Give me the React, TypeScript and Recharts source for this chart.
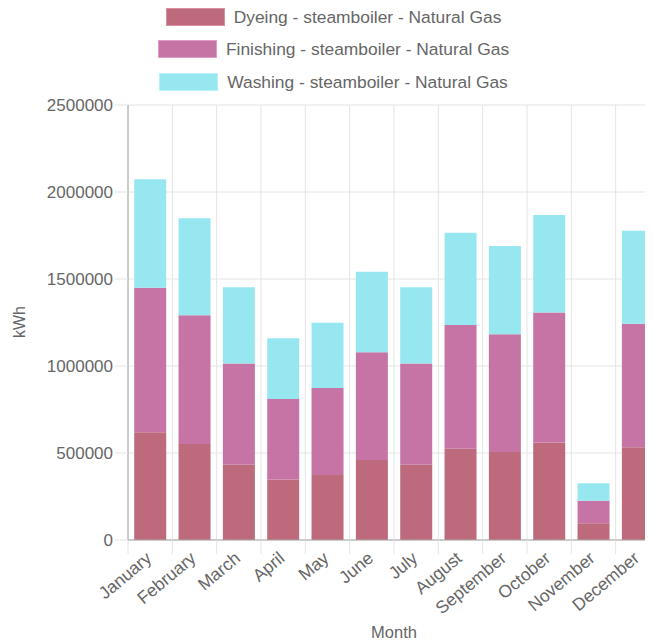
import React from "react";
import { BarChart, Bar, XAxis, YAxis, CartesianGrid } from "recharts";

// chart values
const months = [
  "January",
  "February",
  "March",
  "April",
  "May",
  "June",
  "July",
  "August",
  "September",
  "October",
  "November",
  "December",
];
const dyeing = [619000, 552000, 433000, 347000, 374000, 460000, 433000, 525000, 506000, 561000, 96000, 533000];
const finishing = [831000, 739000, 582000, 463000, 499000, 619000, 582000, 711000, 676000, 747000, 130000, 710000];
const washing = [623000, 558000, 437000, 349000, 376000, 463000, 437000, 530000, 508000, 560000, 100000, 535000];
const yTicks = [0, 500000, 1000000, 1500000, 2000000, 2500000];

const series = [
  { key: "dyeing", name: "Dyeing - steamboiler - Natural Gas", color: "#bd6b7c", border: "#d98fa0" },
  { key: "finishing", name: "Finishing - steamboiler - Natural Gas", color: "#c574a5", border: "#e29bc6" },
  { key: "washing", name: "Washing - steamboiler - Natural Gas", color: "#97e7f1", border: "#b5f3fa" },
];

const data = months.map((m, i) => ({
  month: m,
  dyeing: dyeing[i],
  finishing: finishing[i],
  washing: washing[i],
}));

const W = 700;
const H = 636;
const PLOT_LEFT = 120;
const PLOT_TOP = 97;
const PLOT_BOTTOM = 532;
const PLOT_RIGHT = 652;
const X_AXIS_H = 60;
const TICK_SIZE = 14;
const TICK_MARGIN = 3;
const GRID = "#e4e4e4";
const AXIS = "#a6a6a6";
const TEXT = "#666";

const XTick = (props: any) => {
  const { x, y, payload } = props;
  const half = (PLOT_RIGHT - PLOT_LEFT) / months.length / 2;
  const axisY = y - TICK_SIZE - TICK_MARGIN;
  return (
    <g>
      <line x1={x - half} x2={x - half} y1={axisY} y2={axisY + TICK_SIZE} stroke={GRID} />
      <text
        x={x}
        y={y}
        dy={4}
        textAnchor="end"
        transform={`rotate(-40, ${x}, ${y})`}
        fill={TEXT}
        fontSize={17.5}
      >
        {payload.value}
      </text>
    </g>
  );
};

const App = () => {
  return (
    <div
      style={{
        position: "relative",
        width: 645,
        height: H,
        overflow: "hidden",
        fontFamily: "'Liberation Sans', Arial, sans-serif",
      }}
    >
      {/* legend, one item per row like the original */}
      {series.map((s, i) => (
        <div
          key={s.key}
          style={{
            position: "absolute",
            top: i * 32.3,
            left: 0,
            width: 651,
            display: "flex",
            justifyContent: "center",
            alignItems: "center",
            height: 18,
            lineHeight: "18px",
            fontSize: 17.4,
            color: TEXT,
            whiteSpace: "nowrap",
          }}
        >
          <span
            style={{
              display: "inline-block",
              width: 57,
              height: 16,
              background: s.color,
              border: `1px solid ${s.border}`,
              marginRight: 9,
            }}
          />
          <span>{s.name}</span>
        </div>
      ))}

      <div
        style={{
          position: "absolute",
          left: 12,
          top: 314 - 9,
          transform: "rotate(-90deg)",
          transformOrigin: "center",
          fontSize: 16,
          color: TEXT,
          width: 0,
          display: "flex",
          justifyContent: "center",
        }}
      >
        kWh
      </div>
      <div
        style={{
          position: "absolute",
          left: 386 - 40,
          width: 80,
          textAlign: "center",
          top: 615,
          fontSize: 16.5,
          color: TEXT,
        }}
      >
        Month
      </div>

      <div style={{ position: "absolute", left: 0, top: 0 }}>
        <BarChart
          width={W}
          height={H}
          data={data}
          margin={{
            top: PLOT_TOP,
            right: W - PLOT_RIGHT,
            left: 0,
            bottom: H - PLOT_BOTTOM - X_AXIS_H,
          }}
          barCategoryGap="14%"
        >
          <CartesianGrid
            stroke={GRID}
            verticalCoordinatesGenerator={(p: any) =>
              months.map((_, i) => p.offset.left + (i * p.offset.width) / months.length)
            }
          />
          <XAxis
            dataKey="month"
            interval={0}
            height={X_AXIS_H}
            tickLine={false}
            tickSize={TICK_SIZE}
            tickMargin={TICK_MARGIN}
            axisLine={{ stroke: AXIS }}
            tick={<XTick />}
          />
          <YAxis
            width={PLOT_LEFT}
            domain={[0, 2500000]}
            ticks={yTicks}
            interval={0}
            tickSize={13}
            tickMargin={2}
            tickLine={{ stroke: GRID }}
            axisLine={{ stroke: AXIS }}
            tick={{ fill: TEXT, fontSize: 17 }}
          />
          {series.map((s) => (
            <Bar
              key={s.key}
              dataKey={s.key}
              name={s.name}
              stackId="a"
              fill={s.color}
              isAnimationActive={false}
            />
          ))}
        </BarChart>
      </div>
    </div>
  );
};

export default App;
